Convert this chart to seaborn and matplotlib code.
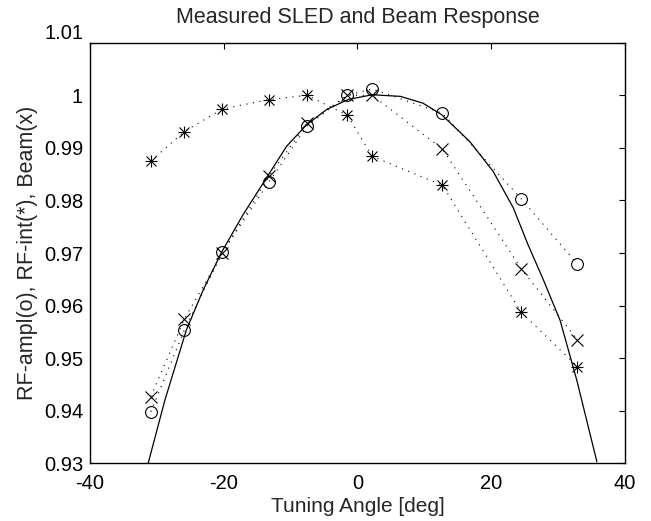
import matplotlib
matplotlib.use("Agg")
import matplotlib.pyplot as plt
import seaborn as sns

# Measured points (tuning angle in deg)
angle = [-30.9, -25.9, -20.2, -13.2, -7.5, -1.5, 2.2, 12.7, 24.5, 32.9]
rf_ampl = [0.9398, 0.9553, 0.9701, 0.9836, 0.9942, 1.0000, 1.0012, 0.9966, 0.9803, 0.9679]
rf_int = [0.9875, 0.9931, 0.9974, 0.9992, 1.0000, 0.9962, 0.9884, 0.9829, 0.9587, 0.9484]
beam = [0.9427, 0.9574, 0.9700, 0.9847, 0.9947, 1.0000, 1.0000, 0.9898, 0.9670, 0.9535]

# Solid reference curve
curve_angle = [-31.3, -28.8, -25.6, -23.1, -20.3, -17.1, -13.3, -10.6, -7.6, -4.6, -1.4,
               2.2, 6.4, 9.8, 12.6, 16.8, 20.3, 23.3, 25.5, 27.8, 30.3, 32.8, 35.8]
curve_resp = [0.9300, 0.9420, 0.9553, 0.9629, 0.9702, 0.9773, 0.9849, 0.9903, 0.9944, 0.9973, 0.9992,
              1.0001, 0.9998, 0.9985, 0.9963, 0.9912, 0.9855, 0.9786, 0.9716, 0.9649, 0.9572, 0.9458, 0.9303]

xticks = [-40, -20, 0, 20, 40]
xtick_labels = ["-40", "-20", "0", "20", "40"]
yticks = [0.93, 0.94, 0.95, 0.96, 0.97, 0.98, 0.99, 1.00, 1.01]
ytick_labels = ["0.93", "0.94", "0.95", "0.96", "0.97", "0.98", "0.99", "1", "1.01"]

FS = 15.5
TICK_FS = 14.5

sns.set_style("white")
plt.rcParams["font.family"] = ["Liberation Sans", "DejaVu Sans"]
plt.rcParams["font.size"] = FS

fig = plt.figure(figsize=(6.51, 5.21), dpi=100)
ax = fig.add_axes([0.1382, 0.1107, 0.8218, 0.8073])

dots = (0, (1, 5))
mk = dict(markerfacecolor="none", markeredgecolor="k", markeredgewidth=0.8)

sns.lineplot(x=curve_angle, y=curve_resp, ax=ax, color="k", lw=0.9, sort=False)
sns.lineplot(x=angle, y=rf_ampl, ax=ax, color="k", lw=0.8, linestyle=dots,
             marker="o", markersize=8.5, sort=False, **mk)
sns.lineplot(x=angle, y=beam, ax=ax, color="k", lw=0.8, linestyle=dots,
             marker="x", markersize=8.5, sort=False, **mk)
sns.lineplot(x=angle, y=rf_int, ax=ax, color="k", lw=0.8, linestyle=dots,
             marker="+", markersize=9, sort=False, **mk)
# second half of the asterisk
sns.lineplot(x=angle, y=rf_int, ax=ax, lw=0, marker="x", markersize=6.5,
             sort=False, **mk)

ax.set_xlim(-40, 40)
ax.set_ylim(0.93, 1.01)
ax.set_xticks(xticks)
ax.set_xticklabels(xtick_labels)
ax.set_yticks(yticks)
ax.set_yticklabels(ytick_labels)
ax.get_yticklabels()[-1].set_verticalalignment("bottom")

ax.tick_params(direction="in", top=True, right=True, length=4, width=0.8,
               labelsize=TICK_FS, colors="k")
ax.tick_params(axis="x", pad=8)
ax.tick_params(axis="y", pad=5)
for s in ax.spines.values():
    s.set_linewidth(1.0)
    s.set_color("k")

ax.set_title("Measured SLED and Beam Response", fontsize=FS, pad=14)
ax.set_xlabel("Tuning Angle [deg]", fontsize=15)
ax.set_ylabel("RF-ampl(o), RF-int(*), Beam(x)", fontsize=FS)
ax.xaxis.set_label_coords(0.5, -0.0805)
ax.yaxis.set_label_coords(-0.097, 0.5)

fig.savefig("out.png", dpi=100)
